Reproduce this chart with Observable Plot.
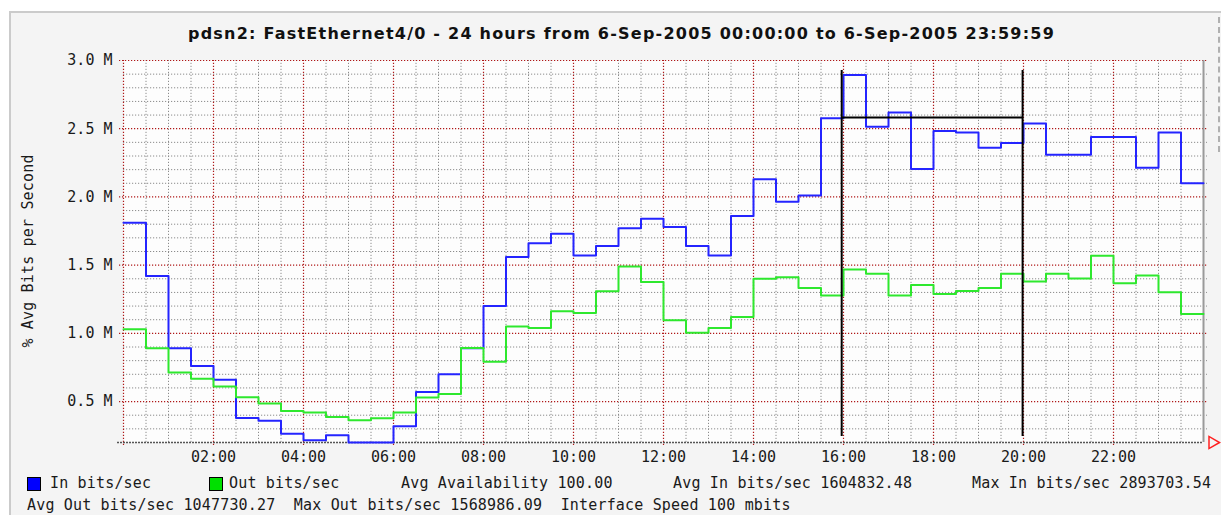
<!DOCTYPE html>
<html>
<head>
<meta charset="utf-8">
<script src="https://cdn.jsdelivr.net/npm/d3@7"></script>
<script src="https://cdn.jsdelivr.net/npm/@observablehq/plot@0.6"></script>
<style>
  body { margin:0; width:1221px; height:515px; position:relative; overflow:hidden; background:#fff; }
  .mono { font-family:"DejaVu Sans Mono", monospace; font-size:15px; letter-spacing:0.17px; color:#1a1a1a; white-space:pre; position:absolute; line-height:16px; }
  #frame { position:absolute; left:9px; top:11px; width:1212px; height:510px; background:#f4f4f4; border-top:2px solid #cbcbcb; border-left:2px solid #cbcbcb; }
  #rdash { position:absolute; left:1218px; top:17px; height:135px; border-left:2px dashed #b0b0b0; }
  #title { position:absolute; left:0; width:1243px; top:26px; text-align:center; font-family:"DejaVu Sans", sans-serif; font-weight:bold; font-size:16px; line-height:16px; color:#111; white-space:pre; }
  #ylabel { position:absolute; left:-122px; top:243px; width:300px; height:16px; text-align:center; transform:rotate(-90deg); }
  #chart { position:absolute; left:0; top:40px; }
  .sw { position:absolute; width:12px; height:12px; border:1px solid #000; }
</style>
</head>
<body>
<div id="frame"></div>
<div id="rdash"></div>
<div id="title"><span id="titleText">pdsn2: FastEthernet4/0 - 24 hours from 6-Sep-2005 00:00:00 to 6-Sep-2005 23:59:59</span></div>
<div id="ylabel" class="mono">% Avg Bits per Second</div>
<div id="chart"></div>
<div class="sw" style="left:27px;top:477px;background:#0000ff"></div>
<span class="mono" style="left:50px;top:475px">In bits/sec</span>
<div class="sw" style="left:209px;top:477px;background:#00e000"></div>
<span class="mono" style="left:229px;top:475px">Out bits/sec</span>
<span class="mono" style="left:401px;top:475px">Avg Availability 100.00</span>
<span class="mono" style="left:673px;top:475px">Avg In bits/sec 1604832.48</span>
<span class="mono" style="left:972px;top:475px">Max In bits/sec 2893703.54</span>
<span class="mono" style="left:27px;top:497px">Avg Out bits/sec 1047730.27  Max Out bits/sec 1568986.09  Interface Speed 100 mbits</span>
<script>
// Half-hour sample start times (hours after midnight)
const hours = [0,0.5,1,1.5,2,2.5,3,3.5,4,4.5,5,5.5,6,6.5,7,7.5,8,8.5,9,9.5,10,10.5,11,11.5,
               12,12.5,13,13.5,14,14.5,15,15.5,16,16.5,17,17.5,18,18.5,19,19.5,20,20.5,21,21.5,22,22.5,23,23.5];
// In bits/sec (millions)
const inBits = [1.81,1.42,0.89,0.76,0.66,0.38,0.36,0.265,0.216,0.253,0.20,0.20,
                0.32,0.57,0.70,0.89,1.20,1.56,1.66,1.73,1.57,1.64,1.77,1.84,
                1.78,1.64,1.57,1.86,2.13,1.965,2.01,2.576,2.894,2.515,2.618,2.204,
                2.483,2.473,2.36,2.395,2.539,2.309,2.309,2.439,2.439,2.213,2.473,2.10];
// Out bits/sec (millions)
const outBits = [1.03,0.89,0.713,0.667,0.61,0.532,0.485,0.43,0.419,0.387,0.363,0.377,
                 0.419,0.53,0.556,0.892,0.792,1.051,1.039,1.162,1.15,1.309,1.49,1.377,
                 1.096,1.005,1.039,1.12,1.40,1.412,1.333,1.277,1.468,1.436,1.277,1.355,
                 1.289,1.311,1.333,1.436,1.38,1.436,1.402,1.569,1.368,1.424,1.301,1.142];
// Axis ticks
const yTicks = [0.5,1.0,1.5,2.0,2.5,3.0];
const yTickLabels = ["0.5 M","1.0 M","1.5 M","2.0 M","2.5 M","3.0 M"];
const xTicks = [2,4,6,8,10,12,14,16,18,20,22];
const xTickLabels = ["02:00","04:00","06:00","08:00","10:00","12:00","14:00","16:00","18:00","20:00","22:00"];
// Peak-window marker (16:00-20:00)
const markerHours = [15.96,19.98];
const markerLevel = 2.583;
const markerSpan = [0.244, 2.926];

const M = 1e6;
const endHour = 24;
const inData = hours.map((h,i)=>({t:h, v:inBits[i]*M})).concat([{t:endHour, v:inBits[inBits.length-1]*M}]);
const outData = hours.map((h,i)=>({t:h, v:outBits[i]*M})).concat([{t:endHour, v:outBits[outBits.length-1]*M}]);

const yMin = 0.2*M, yMax = 3.0*M;
const minorY = d3.range(3, 31).map(d=>d/10*M).filter(v => !yTicks.some(t=>Math.abs(t*M-v)<1));
const majorY = yTicks.map(d=>d*M);
const minorX = d3.range(1, 48).map(d=>d/2).filter(h => h % 2 !== 0);
const majorX = [0].concat(xTicks);

const pxH = 1/45;           // one pixel in hours
const pxV = M/136.07;       // one pixel in bits/sec

const red = "#b01818";
const grey = "#8c8c8c";

const chart = Plot.plot({
  width: 1221,
  height: 440,
  marginLeft: 123,
  marginRight: 18,
  marginTop: 20,
  marginBottom: 38,
  style: {background: "transparent", fontFamily: "DejaVu Sans Mono, monospace", fontSize: "15px", color: "#1a1a1a"},
  x: {domain: [0, 24], axis: null},
  y: {domain: [yMin, yMax], axis: null},
  marks: [
    Plot.frame({fill: "#fdfdfd", stroke: null}),
    // minor grid
    Plot.ruleY(minorY, {x1: 0, x2: 24 + 4*pxH, stroke: grey, strokeDasharray: "1.2,1.8", strokeWidth: 1}),
    Plot.ruleX(minorX, {y1: yMin, y2: yMax, stroke: grey, strokeDasharray: "1.2,1.8", strokeWidth: 1}),
    // major grid
    Plot.ruleY(majorY, {x1: -4*pxH, x2: 24 + 4*pxH, stroke: red, strokeDasharray: "1.2,1.8", strokeWidth: 1.2}),
    Plot.ruleX(majorX, {y1: yMin - 3*pxV, y2: yMax, stroke: red, strokeDasharray: "1.2,1.8", strokeWidth: 1.2}),
    // bottom axis line
    Plot.ruleY([yMin], {x1: -6*pxH, x2: 24, stroke: "#555", strokeDasharray: "2,1", strokeWidth: 1.6}),
    // right axis line
    Plot.ruleX([24], {y1: yMin, y2: yMax, stroke: "#9a9a9a", strokeWidth: 2}),
    // arrow
    Plot.dot([{x: 24 + 9*pxH, y: yMin}], {x: "x", y: "y", symbol: "triangle", r: 4.5, stroke: "#ff2020", strokeWidth: 1.5, fill: "none", rotate: 90}),
    // series
    Plot.line(inData, {x: "t", y: "v", curve: "step-after", stroke: "#2424ff", strokeWidth: 2}),
    Plot.line(outData, {x: "t", y: "v", curve: "step-after", stroke: "#2ee82e", strokeWidth: 2}),
    // peak window marker
    Plot.ruleX(markerHours, {y1: markerSpan[0]*M, y2: markerSpan[1]*M, stroke: "#000", strokeWidth: 2}),
    Plot.ruleY([markerLevel*M], {x1: markerHours[0], x2: markerHours[1], stroke: "#000", strokeWidth: 2}),
    // tick labels
    Plot.text(yTicks, {x: 0, y: d=>d*M, text: (d,i)=>yTickLabels[i], textAnchor: "end", dx: -11, fill: "#1a1a1a", fontSize: 15}),
    Plot.text(xTicks, {x: d=>d, y: yMin, text: (d,i)=>xTickLabels[i], dy: 15, fill: "#1a1a1a", fontSize: 15})
  ]
});
document.getElementById("chart").appendChild(chart);

// fit title to its measured width in the reference
const tt = document.getElementById("titleText");
const w = tt.getBoundingClientRect().width;
const n = tt.textContent.length;
tt.style.letterSpacing = ((867 - w) / n) + "px";
</script>
</body>
</html>
